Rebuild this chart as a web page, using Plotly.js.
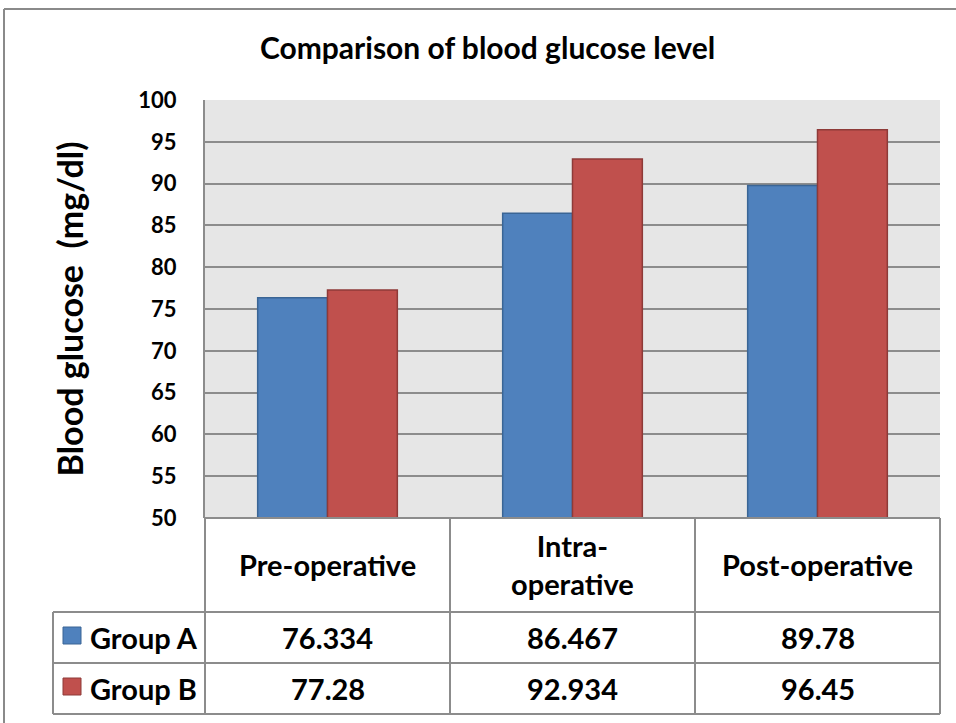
<!DOCTYPE html>
<html>
<head>
<meta charset="utf-8">
<script src="https://cdn.plot.ly/plotly-3.0.1.min.js"></script>
<style>html,body{margin:0;padding:0;background:#fff;}#chart{width:956px;height:723px;}</style>
</head>
<body>
<div id="chart"></div>
<script>
const categories = ['Pre-operative', 'Intra-operative', 'Post-operative'];
const headerLabels = ['Pre-operative', 'Intra-<br>operative', 'Post-operative'];
const seriesNames = ['Group A', 'Group B'];
const groupA = [76.334, 86.467, 89.78];
const groupB = [77.28, 92.934, 96.45];
const groupAText = ['76.334', '86.467', '89.78'];
const groupBText = ['77.28', '92.934', '96.45'];
const yTicks = [50, 55, 60, 65, 70, 75, 80, 85, 90, 95, 100];

const W = 956, H = 723;
const M = {l: 205, r: 16, t: 100, b: 205};
const PW = W - M.l - M.r, PH = H - M.t - M.b;
const px = x => (x - M.l) / PW;
const py = y => (H - M.b - y) / PH;

const FONT = 'Lato, "Open Sans", sans-serif';
const blue = '#4f81bd', blueLine = '#3a6595';
const red = '#c0504d', redLine = '#8e3a38';
const grid = '#8c8c8c';

const traces = [
  {type: 'bar', name: seriesNames[0], x: categories, y: groupA,
   marker: {color: blue, line: {color: blueLine, width: 1.5}}, hoverinfo: 'x+y+name'},
  {type: 'bar', name: seriesNames[1], x: categories, y: groupB,
   marker: {color: red, line: {color: redLine, width: 1.5}}, hoverinfo: 'x+y+name'}
];

const shapes = [];
const line = (xref, x0, x1, yref, y0, y1) => shapes.push({type: 'line', xref, yref, x0, x1, y0, y1, line: {color: grid, width: 2}, layer: 'above'});
// table horizontal lines
line('paper', 0, 1, 'paper', py(518), py(518));
line('paper', px(53), 1, 'paper', py(612), py(612));
line('paper', px(53), 1, 'paper', py(663), py(663));
line('paper', px(53), 1, 'paper', py(714), py(714));
// table vertical lines
line('paper', 0, 0, 'paper', py(518), py(714));
line('x', 0.5, 0.5, 'paper', py(518), py(714));
line('x', 1.5, 1.5, 'paper', py(518), py(714));
line('paper', 1, 1, 'paper', py(518), py(714));
line('paper', px(53), px(53), 'paper', py(612), py(714));
// outer chart border (extends past window)
shapes.push({type: 'line', xref: 'paper', yref: 'paper', x0: px(4), x1: px(970), y0: py(9), y1: py(9), line: {color: '#8a8a8a', width: 2}});
shapes.push({type: 'line', xref: 'paper', yref: 'paper', x0: px(4), x1: px(4), y0: py(9), y1: py(740), line: {color: '#8a8a8a', width: 2}});
// legend keys
const keys = [[627, 644, blue, blueLine], [678, 695, red, redLine]];
keys.forEach(k => shapes.push({type: 'rect', xref: 'paper', yref: 'paper', x0: px(63), x1: px(81), y0: py(k[1]), y1: py(k[0]), fillcolor: k[2], line: {color: k[3], width: 1}}));

const tfont = {family: FONT, size: 29, color: '#000'};
const annotations = [];
categories.forEach((c, i) => {
  annotations.push({xref: 'x', yref: 'paper', x: c, y: py(564), text: '<b>' + headerLabels[i].replace('<br>', '</b><br><b>') + '</b>', showarrow: false, font: tfont, xanchor: 'center', yanchor: 'middle'});
  annotations.push({xref: 'x', yref: 'paper', x: c, y: py(637.5), text: '<b>' + groupAText[i] + '</b>', showarrow: false, font: tfont, xanchor: 'center', yanchor: 'middle'});
  annotations.push({xref: 'x', yref: 'paper', x: c, y: py(688.5), text: '<b>' + groupBText[i] + '</b>', showarrow: false, font: tfont, xanchor: 'center', yanchor: 'middle'});
});
annotations.push({xref: 'paper', yref: 'paper', x: px(88), y: py(637.5), text: '<b>' + seriesNames[0] + '</b>', showarrow: false, font: tfont, xanchor: 'left', yanchor: 'middle'});
annotations.push({xref: 'paper', yref: 'paper', x: px(88), y: py(688.5), text: '<b>' + seriesNames[1] + '</b>', showarrow: false, font: tfont, xanchor: 'left', yanchor: 'middle'});

const layout = {
  width: W, height: H,
  margin: M,
  paper_bgcolor: '#ffffff',
  plot_bgcolor: '#e6e6e6',
  showlegend: false,
  barmode: 'group',
  bargap: 0.43,
  bargroupgap: 0,
  font: {family: FONT, color: '#000'},
  title: {text: '<b>Comparison of blood glucose level</b>', font: {family: FONT, size: 30, color: '#000'}, x: 0.51, xanchor: 'center', y: 1 - 48 / H, yanchor: 'middle'},
  xaxis: {type: 'category', range: [-0.5, 2.5], showticklabels: false, ticks: '', showgrid: false, zeroline: false, showline: false, fixedrange: true},
  yaxis: {range: [50, 100], tickvals: yTicks, ticktext: yTicks.map(v => '<b>' + v + '</b>'), tickfont: {family: FONT, size: 22, color: '#000'},
          ticks: 'outside', ticklen: 22, tickcolor: 'rgba(0,0,0,0)', showgrid: true, gridcolor: grid, gridwidth: 2,
          showline: true, linecolor: grid, linewidth: 2, zeroline: false, fixedrange: true,
          title: {text: '<b>Blood glucose  (mg/dl)</b>', font: {family: FONT, size: 34, color: '#000'}, standoff: 44}},
  shapes, annotations
};

Plotly.newPlot('chart', traces, layout, {displayModeBar: false, staticPlot: true});
</script>
</body>
</html>
